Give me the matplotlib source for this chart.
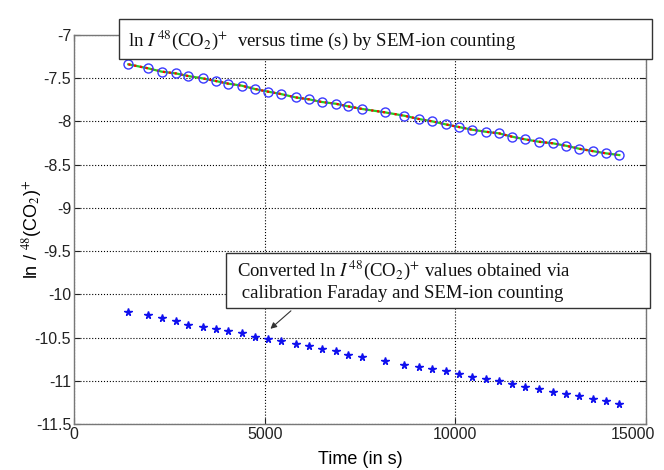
import matplotlib
matplotlib.use("Agg")
import matplotlib.pyplot as plt
import matplotlib.transforms as mtransforms
from matplotlib.patches import Rectangle

# ── data ──────────────────────────────────────────────────────────────────────
time_s = [1425, 1949, 2300, 2667, 2998, 3375, 3716, 4047, 4398, 4747,
          5096, 5429, 5814, 6171, 6496, 6863, 7193, 7561, 8156, 8663,
          9048, 9397, 9748, 10097, 10446, 10797, 11146, 11495, 11828, 12195,
          12554, 12903, 13252, 13603, 13952, 14301]

ln_sem = [-7.339, -7.386, -7.424, -7.444, -7.475, -7.502, -7.532, -7.563, -7.586, -7.625,
          -7.656, -7.683, -7.722, -7.745, -7.775, -7.795, -7.826, -7.856, -7.895, -7.934,
          -7.972, -7.999, -8.034, -8.065, -8.096, -8.119, -8.138, -8.177, -8.207, -8.235,
          -8.253, -8.281, -8.316, -8.343, -8.369, -8.389]

ln_converted = [-10.202, -10.241, -10.278, -10.310, -10.356, -10.376, -10.403, -10.426, -10.453, -10.492,
                -10.519, -10.542, -10.580, -10.600, -10.631, -10.657, -10.701, -10.723, -10.770, -10.812,
                -10.839, -10.858, -10.889, -10.916, -10.955, -10.974, -11.001, -11.039, -11.070, -11.093,
                -11.128, -11.155, -11.178, -11.209, -11.233, -11.271]

x_ticks = [0, 5000, 10000, 15000]
y_ticks = [-7, -7.5, -8, -8.5, -9, -9.5, -10, -10.5, -11, -11.5]

W, H = 664, 470
plt.rcParams["mathtext.fontset"] = "stix"

# ── figure ────────────────────────────────────────────────────────────────────
fig = plt.figure(figsize=(W / 100, H / 100), dpi=100, facecolor="white")
ax = fig.add_axes([74 / W, 1 - 424 / H, (646 - 74) / W, (424 - 35) / H])

ax.plot(time_s, ln_sem, color="#22cc22", linewidth=1.6, zorder=3)
ax.plot(time_s, ln_sem, color="red", linewidth=1.6, linestyle=":", zorder=4)
ax.plot(time_s, ln_sem, linestyle="none", marker="o", markersize=6.5,
        markerfacecolor="none", markeredgecolor="#3a3aff", markeredgewidth=1.0, zorder=5)
ax.plot(time_s, ln_converted, linestyle="none", marker="*", markersize=5.5,
        color="#1010ee", zorder=5)

ax.set_xlim(0, 15000)
ax.set_ylim(-11.5, -7)
ax.set_xticks(x_ticks)
ax.set_yticks(y_ticks)
ax.set_yticklabels([f"{v:g}" for v in y_ticks])
ax.grid(True, color="black", linestyle=":", linewidth=0.8)
ax.set_axisbelow(True)
ax.tick_params(direction="in", length=4, top=True, right=True,
               labelsize=11.5, colors="#222222", pad=2)
for lab in ax.get_xticklabels() + ax.get_yticklabels():
    lab.set_family("Liberation Sans")
# last x label sits a bit left, as in the reference
last = ax.get_xticklabels()[-1]
last.set_horizontalalignment("right")
last.set_transform(last.get_transform() + mtransforms.ScaledTranslation(9 / 100, 0, fig.dpi_scale_trans))
for spine in ax.spines.values():
    spine.set_edgecolor("#777777")
    spine.set_linewidth(1.0)

ax.set_xlabel("Time (in s)", fontsize=13, family="Liberation Sans")
ax.xaxis.set_label_coords(0.5, -(460 - 424) / (424 - 35))
ax.xaxis.label.set_verticalalignment("center")
ax.set_ylabel(r"ln / $^{48}$(CO$_2$)$^{+}$", fontsize=13, family="Liberation Sans")
ax.yaxis.set_label_coords(-(74 - 32) / (646 - 74), 0.5)
ax.yaxis.label.set_verticalalignment("center")

# ── text boxes (figure pixels) ────────────────────────────────────────────────
def box(x0, y0, x1, y1):
    fig.add_artist(Rectangle((x0 / W, 1 - y1 / H), (x1 - x0) / W, (y1 - y0) / H,
                             transform=fig.transFigure, facecolor="white",
                             edgecolor="#333333", linewidth=1.0, zorder=10))

serif = dict(family="Liberation Serif", fontsize=13.5, color="#111111", zorder=11)

box(119, 19, 652, 59)
fig.text(128 / W, 1 - 40 / H,
         r"ln $I^{\,48}$(CO$_2$)$^{+}$  versus time (s) by SEM-ion counting",
         ha="left", va="center", **serif)

box(226, 253, 650, 308)
fig.text(237 / W, 1 - 270 / H,
         r"Converted ln $I^{\,48}$(CO$_2$)$^{+}$ values obtained via",
         ha="left", va="center", **serif)
fig.text(237 / W, 1 - 293 / H, " calibration Faraday and SEM-ion counting",
         ha="left", va="center", **serif)

ax.annotate("", xy=(5096, -10.42), xycoords="data",
            xytext=(293, H - 309), textcoords="figure pixels",
            arrowprops=dict(arrowstyle="-|>", color="#333333", linewidth=0.8,
                            mutation_scale=9),
            zorder=12)

fig.savefig("out.png", dpi=100, facecolor="white")
